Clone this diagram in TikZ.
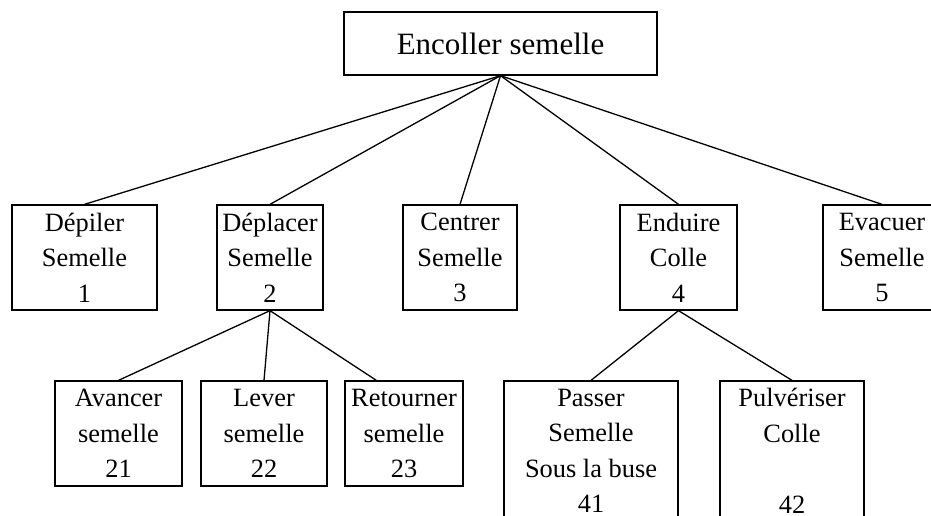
\documentclass[tikz,border=0pt]{standalone}
\usepackage{fontspec}
\setmainfont{Liberation Serif}
\usetikzlibrary{calc}
\begin{document}
\begin{tikzpicture}[x=1pt,y=-1pt,
  box/.style={draw,line width=1.3pt,inner sep=0pt,align=center,
    font=\fontsize{26.4}{35.5}\selectfont},
  rootbox/.style={draw,line width=1.3pt,inner sep=0pt,align=center,
    font=\fontsize{31}{37}\selectfont},
  link/.style={line width=1.3pt}]
\clip (0,0) rectangle (931,515);
\fill[white] (0,0) rectangle (931,515);
\node[rootbox,minimum width=313pt,minimum height=63pt] (root) at (500.5,43.5) {Encoller semelle};
% level 1
\node[box,minimum width=145pt,minimum height=105pt] (b1) at (84.5,257.5) {Dépiler\\Semelle\\1};
\node[box,minimum width=106pt,minimum height=105pt] (b2) at (270,257.5) {Déplacer\\Semelle\\2};
\node[box,minimum width=114pt,minimum height=105pt] (b3) at (460,257.5) {Centrer\\Semelle\\3};
\node[box,minimum width=117pt,minimum height=105pt] (b4) at (678.5,257.5) {Enduire\\Colle\\4};
\node[box,minimum width=118pt,minimum height=105pt] (b5) at (882,257.5) {Evacuer\\Semelle\\5};
% level 2
\node[box,minimum width=127pt,minimum height=105pt] (b21) at (118.5,433.5) {Avancer\\semelle\\21};
\node[box,minimum width=126pt,minimum height=105pt] (b22) at (264,433.5) {Lever\\semelle\\22};
\node[box,minimum width=118pt,minimum height=105pt] (b23) at (404,433.5) {Retourner\\semelle\\23};
\node[box,minimum width=174pt,minimum height=140pt] (b41) at (591,451) {Passer\\Semelle\\Sous la buse\\41};
\node[box,minimum width=144pt,minimum height=140pt] (b42) at (792,451) {Pulvériser\\Colle\\[35.5pt]42};
% connectors
\foreach \c in {b1,b2,b3,b4,b5} \draw[link] (root.south) -- (\c.north);
\draw[link] (b2.south) -- (b21.north);
\draw[link] (b2.south) -- (b22.north);
\draw[link] (b2.south) -- ($(b23.north west)+(32,0)$);
\draw[link] (b4.south) -- (b41.north);
\draw[link] (b4.south) -- (b42.north);
\end{tikzpicture}
\end{document}
